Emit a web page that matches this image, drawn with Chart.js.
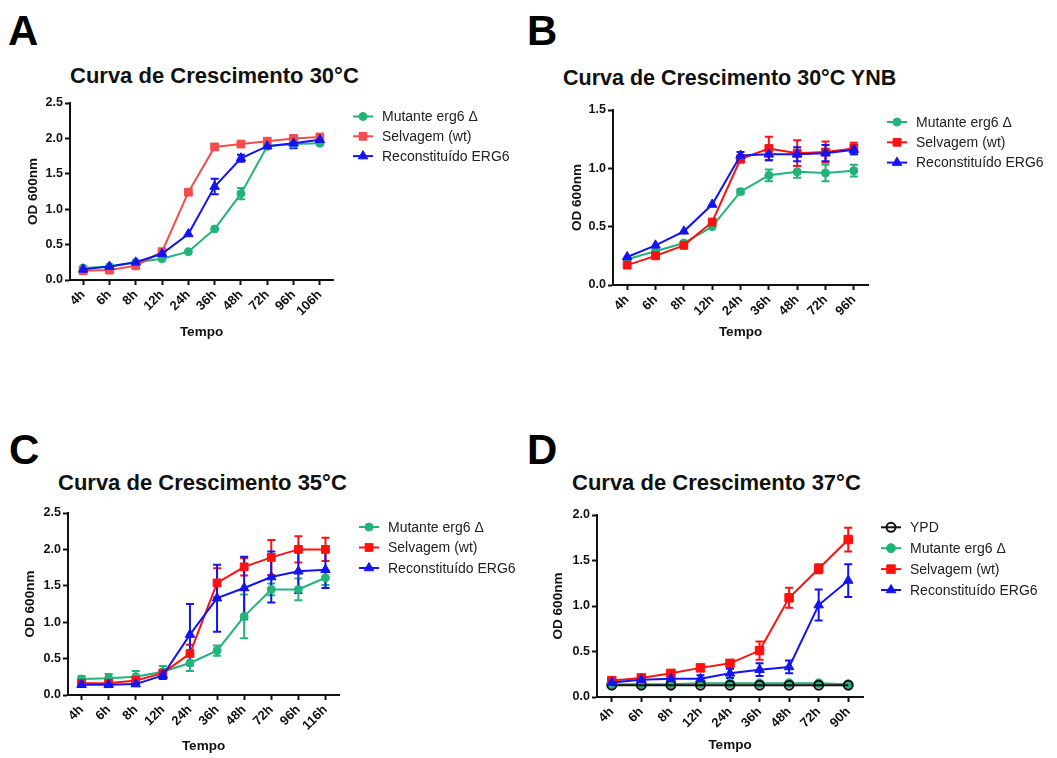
<!DOCTYPE html>
<html>
<head>
<meta charset="utf-8">
<script src="https://cdn.jsdelivr.net/npm/chart.js@4"></script>
<style>
  body { margin: 0; background: #fff; font-family: "Liberation Sans", Arial, sans-serif; }
  #pagina { position: relative; width: 1057px; height: 758px; overflow: hidden; background: #fff; }
  canvas { position: absolute; }
  .letra { position: absolute; font-weight: bold; font-size: 42px; line-height: 1; color: #000; }
  .titulo { position: absolute; font-weight: bold; font-size: 22px; line-height: 1; white-space: nowrap; color: #111; }
</style>
</head>
<body>
<div id="pagina">
  <div class="letra" style="left:8px;top:10px">A</div>
  <div class="letra" style="left:527px;top:10px">B</div>
  <div class="letra" style="left:9px;top:429px">C</div>
  <div class="letra" style="left:527px;top:429px">D</div>

  <div class="titulo" style="left:70px;top:65px">Curva de Crescimento 30°C</div>
  <div class="titulo" style="left:563px;top:68px;font-size:21.5px">Curva de Crescimento 30°C YNB</div>
  <div class="titulo" style="left:58px;top:472px">Curva de Crescimento 35°C</div>
  <div class="titulo" style="left:572px;top:472px">Curva de Crescimento 37°C</div>

  <canvas id="grafA" width="520" height="262" style="left:0px;top:90px"></canvas>
  <canvas id="grafB" width="537" height="262" style="left:520px;top:90px"></canvas>
  <canvas id="grafC" width="520" height="263" style="left:0px;top:495px"></canvas>
  <canvas id="grafD" width="537" height="263" style="left:520px;top:495px"></canvas>
</div>

<script>
// ---- dados ----
// A: 30°C
const temposA = ['4h', '6h', '8h', '12h', '24h', '36h', '48h', '72h', '96h', '106h'];
const mutanteA = [0.17, 0.19, 0.25, 0.30, 0.40, 0.72, 1.22, 1.89, 1.92, 1.93];
const mutanteA_erro = [0, 0, 0, 0, 0, 0, 0.08, 0, 0, 0];
const selvagemA = [0.13, 0.14, 0.20, 0.40, 1.24, 1.88, 1.92, 1.96, 2.00, 2.02];
const selvagemA_erro = [0, 0, 0, 0, 0, 0, 0, 0, 0.03, 0];
const reconstA = [0.15, 0.19, 0.25, 0.37, 0.65, 1.32, 1.72, 1.89, 1.93, 1.98];
const reconstA_erro = [0, 0, 0, 0, 0, 0.11, 0.05, 0, 0.07, 0];

// B: 30°C YNB
const temposB = ['4h', '6h', '8h', '12h', '24h', '36h', '48h', '72h', '96h'];
const mutanteB = [0.22, 0.29, 0.36, 0.50, 0.80, 0.94, 0.97, 0.96, 0.98];
const mutanteB_erro = [0, 0, 0, 0, 0.02, 0.05, 0.05, 0.07, 0.05];
const selvagemB = [0.17, 0.25, 0.34, 0.54, 1.08, 1.17, 1.13, 1.14, 1.17];
const selvagemB_erro = [0, 0, 0, 0, 0.03, 0.10, 0.11, 0.09, 0.05];
const reconstB = [0.24, 0.34, 0.46, 0.69, 1.11, 1.12, 1.12, 1.13, 1.16];
const reconstB_erro = [0, 0, 0, 0, 0.03, 0.05, 0.06, 0.07, 0.04];

// C: 35°C
const temposC = ['4h', '6h', '8h', '12h', '24h', '36h', '48h', '72h', '96h', '116h'];
const mutanteC = [0.22, 0.23, 0.25, 0.32, 0.44, 0.61, 1.08, 1.45, 1.45, 1.61];
const mutanteC_erro = [0.04, 0.06, 0.08, 0.08, 0.11, 0.07, 0.30, 0.08, 0.15, 0.10];
const selvagemC = [0.16, 0.16, 0.20, 0.30, 0.57, 1.54, 1.76, 1.89, 2.00, 2.00];
const selvagemC_erro = [0.03, 0.03, 0.05, 0.04, 0.12, 0.20, 0.12, 0.24, 0.18, 0.16];
const reconstC = [0.14, 0.14, 0.15, 0.27, 0.83, 1.33, 1.47, 1.62, 1.70, 1.72];
const reconstC_erro = [0.02, 0.02, 0.02, 0.05, 0.42, 0.46, 0.43, 0.35, 0.30, 0.25];

// D: 37°C
const temposD = ['4h', '6h', '8h', '12h', '24h', '36h', '48h', '72h', '90h'];
const ypdD = [0.13, 0.13, 0.13, 0.13, 0.13, 0.13, 0.13, 0.13, 0.13];
const mutanteD = [0.14, 0.14, 0.14, 0.15, 0.15, 0.15, 0.15, 0.15, 0.14];
const selvagemD = [0.18, 0.21, 0.26, 0.32, 0.37, 0.51, 1.09, 1.41, 1.73];
const selvagemD_erro = [0.02, 0.02, 0.02, 0.03, 0.03, 0.10, 0.11, 0.05, 0.13];
const reconstD = [0.16, 0.19, 0.20, 0.20, 0.26, 0.30, 0.33, 1.01, 1.28];
const reconstD_erro = [0.01, 0.02, 0.03, 0.04, 0.05, 0.07, 0.07, 0.17, 0.18];

const fonte = '"Liberation Sans", Arial, sans-serif';
const verde = '#22b37a';
const vermelho = '#ff1010';
const azul = '#1414f0';

// barras de erro com as escalas do próprio gráfico
const barrasErro = {
  id: 'barrasErro',
  beforeDatasetsDraw(chart) {
    const ctx = chart.ctx;
    const escalaY = chart.scales.y;
    chart.data.datasets.forEach((ds, i) => {
      if (!ds.erros) return;
      const meta = chart.getDatasetMeta(i);
      ctx.save();
      ctx.strokeStyle = ds.borderColor;
      ctx.lineWidth = 2;
      meta.data.forEach((pt, j) => {
        const e = ds.erros[j];
        if (!e) return;
        const v = ds.data[j];
        const cima = escalaY.getPixelForValue(v + e);
        const baixo = escalaY.getPixelForValue(v - e);
        ctx.beginPath();
        ctx.moveTo(pt.x, cima); ctx.lineTo(pt.x, baixo);
        ctx.moveTo(pt.x - 4, cima); ctx.lineTo(pt.x + 4, cima);
        ctx.moveTo(pt.x - 4, baixo); ctx.lineTo(pt.x + 4, baixo);
        ctx.stroke();
      });
      ctx.restore();
    });
  }
};

function marcador(ctx, estilo, r, x, y) {
  ctx.beginPath();
  if (estilo === 'rect') {
    const s = r * Math.SQRT1_2;
    ctx.rect(x - s, y - s, 2 * s, 2 * s);
  } else if (estilo === 'triangle') {
    let a = 0;
    ctx.moveTo(x + Math.sin(a) * r, y - Math.cos(a) * r);
    a += 2 * Math.PI / 3;
    ctx.lineTo(x + Math.sin(a) * r, y - Math.cos(a) * r);
    a += 2 * Math.PI / 3;
    ctx.lineTo(x + Math.sin(a) * r, y - Math.cos(a) * r);
    ctx.closePath();
  } else {
    ctx.arc(x, y, r, 0, Math.PI * 2);
  }
  ctx.fill();
  ctx.stroke();
}

// legenda no estilo linha + símbolo
const legendaLinha = {
  id: 'legendaLinha',
  afterDraw(chart, args, opts) {
    const ctx = chart.ctx;
    chart.data.datasets.forEach((ds, i) => {
      const y = opts.y + i * opts.passo;
      ctx.save();
      ctx.strokeStyle = ds.borderColor;
      ctx.lineWidth = 2;
      ctx.beginPath();
      ctx.moveTo(opts.x, y);
      ctx.lineTo(opts.x + 20, y);
      ctx.stroke();
      ctx.fillStyle = ds.pointBackgroundColor;
      ctx.lineWidth = ds.pointBorderWidth;
      marcador(ctx, ds.pointStyle, ds.pointRadius, opts.x + 10, y);
      ctx.fillStyle = '#222';
      ctx.font = '14px ' + fonte;
      ctx.textBaseline = 'middle';
      ctx.fillText(ds.label, opts.x + 29, y + 1);
      ctx.restore();
    });
  }
};

function serie(rotulo, valores, erros, cor, estilo, raio, ordem) {
  return {
    label: rotulo,
    data: valores,
    erros: erros,
    borderColor: cor,
    backgroundColor: cor,
    pointBackgroundColor: cor,
    pointBorderColor: cor,
    pointBorderWidth: 1,
    pointStyle: estilo,
    pointRadius: raio,
    borderWidth: 2,
    tension: 0,
    order: ordem
  };
}

function grafico(id, tempos, series, yMax, caixa) {
  const eixo = {
    grid: { display: true, drawOnChartArea: false, drawTicks: true, tickLength: 5, tickWidth: 2, color: '#111', tickColor: '#111', offset: false },
    border: { display: true, color: '#111', width: 2 }
  };
  new Chart(document.getElementById(id), {
    type: 'line',
    data: { labels: tempos, datasets: series },
    options: {
      responsive: false,
      maintainAspectRatio: false,
      animation: false,
      events: [],
      layout: { padding: { left: 0, top: caixa.topo, right: caixa.direita, bottom: 0 } },
      plugins: {
        legend: { display: false },
        tooltip: { enabled: false },
        legendaLinha: caixa.legenda
      },
      scales: {
        x: {
          type: 'category',
          offset: true,
          grid: eixo.grid,
          border: eixo.border,
          ticks: {
            autoSkip: false, maxRotation: 45, minRotation: 45, padding: 2, color: '#111',
            font: { family: fonte, size: 13, weight: 'bold' }
          },
          title: {
            display: true, text: 'Tempo', color: '#111',
            font: { family: fonte, size: 13.5, weight: 'bold' },
            padding: { top: 0, bottom: caixa.tituloX }
          },
          afterFit(s) { s.height = caixa.alturaX; }
        },
        y: {
          min: 0,
          max: yMax,
          grid: eixo.grid,
          border: eixo.border,
          ticks: {
            stepSize: 0.5, padding: 2, color: '#111',
            font: { family: fonte, size: 12.5, weight: 'bold' },
            callback: v => v.toFixed(1)
          },
          title: {
            display: true, text: 'OD 600nm', color: '#111',
            font: { family: fonte, size: 13.5, weight: 'bold' },
            padding: { top: caixa.tituloY, bottom: 0 }
          },
          afterFit(s) { s.width = caixa.larguraY; }
        }
      }
    },
    plugins: [barrasErro, legendaLinha]
  });
}

grafico('grafA', temposA, [
  serie('Mutante erg6 Δ', mutanteA, mutanteA_erro, verde, 'circle', 4, 3),
  serie('Selvagem (wt)', selvagemA, selvagemA_erro, '#f24d4d', 'rect', 5.5, 2),
  serie('Reconstituído ERG6', reconstA, reconstA_erro, azul, 'triangle', 5.5, 1)
], 2.5, { topo: 13, direita: 187, larguraY: 70, alturaX: 72, tituloX: 12, tituloY: 25,
          legenda: { x: 353, y: 26.5, passo: 19.8 } });

grafico('grafB', temposB, [
  serie('Mutante erg6 Δ', mutanteB, mutanteB_erro, verde, 'circle', 4, 3),
  serie('Selvagem (wt)', selvagemB, selvagemB_erro, vermelho, 'rect', 5.5, 2),
  serie('Reconstituído ERG6', reconstB, reconstB_erro, azul, 'triangle', 5.5, 1)
], 1.5, { topo: 20, direita: 189, larguraY: 93, alturaX: 67, tituloX: 12, tituloY: 49,
          legenda: { x: 367, y: 32, passo: 20.3 } });

grafico('grafC', temposC, [
  serie('Mutante erg6 Δ', mutanteC, mutanteC_erro, verde, 'circle', 4, 3),
  serie('Selvagem (wt)', selvagemC, selvagemC_erro, vermelho, 'rect', 5.5, 2),
  serie('Reconstituído ERG6', reconstC, reconstC_erro, azul, 'triangle', 5.5, 1)
], 2.5, { topo: 18, direita: 181, larguraY: 68, alturaX: 63, tituloX: 4, tituloY: 22,
          legenda: { x: 359, y: 32, passo: 20.5 } });

const ypd = serie('YPD', ypdD, null, '#111', 'circle', 4.5, 3);
ypd.pointBackgroundColor = 'rgba(255,255,255,0)';
ypd.pointBorderWidth = 2;
grafico('grafD', temposD, [
  ypd,
  serie('Mutante erg6 Δ', mutanteD, null, verde, 'circle', 4.5, 4),
  serie('Selvagem (wt)', selvagemD, selvagemD_erro, vermelho, 'rect', 6, 2),
  serie('Reconstituído ERG6', reconstD, reconstD_erro, azul, 'triangle', 5.5, 1)
], 2.0, { topo: 20, direita: 194, larguraY: 77, alturaX: 61, tituloX: 5, tituloY: 30,
          legenda: { x: 361, y: 32.3, passo: 20.9 } });
</script>
</body>
</html>
